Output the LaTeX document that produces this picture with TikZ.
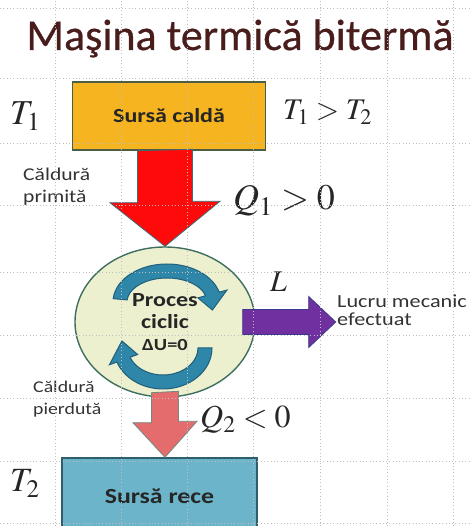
\documentclass[tikz,border=0pt]{standalone}
\usepackage{mathptmx}
\usepackage[no-math]{fontspec}
\setmainfont{Carlito}
\newfontfamily\lblfont{Carlito}[FakeStretch=1.2]
\newfontfamily\titlefont{Carlito}[FakeBold=0.6]
\usetikzlibrary{calc,shapes.geometric}

\definecolor{titlecol}{HTML}{4A1D1D}
\definecolor{hotfill}{HTML}{F6B420}
\definecolor{hotline}{HTML}{4B5D45}
\definecolor{coldfill}{HTML}{6CB4C9}
\definecolor{coldline}{HTML}{2E5E6A}
\definecolor{cycfill}{HTML}{EDF0CF}
\definecolor{cycline}{HTML}{3E6E5E}
\definecolor{cycblue}{HTML}{2E87A8}
\definecolor{cycdark}{HTML}{1F5F7A}
\definecolor{hotred}{HTML}{FF0A0A}
\definecolor{redline}{HTML}{3A6B78}
\definecolor{workcol}{HTML}{7030A0}
\definecolor{workline}{HTML}{3A3A8C}
\definecolor{lostred}{HTML}{E46C6C}
\definecolor{lostline}{HTML}{6F8A80}
\definecolor{txtgray}{HTML}{333333}

\tikzset{
  srcbox/.style={rectangle, line width=1.4pt, inner sep=0pt, text=black!85,
    font=\lblfont\bfseries\fontsize{20}{24}\selectfont},
  cycnode/.style={ellipse, fill=cycfill, draw=cycline, line width=1.4pt,
    inner sep=0pt, minimum width=180pt, minimum height=150pt, align=center,
    text=black!85, font=\lblfont\bfseries\fontsize{20}{22}\selectfont},
  lbl/.style={inner sep=0pt, align=left, text=txtgray,
    font=\lblfont\fontsize{18}{22}\selectfont},
  mth/.style={inner sep=0pt, text=black!85},
  blockarr/.style={line width=0.8pt, line join=miter},
  cycarr/.style={fill=cycblue, draw=cycdark, line width=1pt, line join=miter},
  gridln/.style={gray!50, line width=0.6pt, dash pattern=on 0.7pt off 2.6pt}
}

\begin{document}
\begin{tikzpicture}[x=1pt,y=1pt]
\useasboundingbox (0,0) rectangle (470,526);

% title
\node[inner sep=0pt, anchor=base, text=titlecol,
  font=\titlefont\fontsize{44}{48}\selectfont] (title) at (240,476) {Maşina termică bitermă};

% the two sources and the cycle
\node[srcbox, fill=hotfill, draw=hotline, minimum width=193pt,
  minimum height=68pt] (hot) at (169,410) {Sursă caldă};
\node[cycnode] (cyc) at (165,204) {Proces\\ciclic\\{\fontsize{17}{19}\selectfont ΔU=0}};
\node[srcbox, fill=coldfill, draw=coldline, minimum width=195pt,
  minimum height=76pt, font=\lblfont\bfseries\fontsize{21.5}{24}\selectfont]
  (cold) at (159.5,30) {Sursă rece};
\coordinate (wk) at ($(cyc.east)+(80,0)$);
\coordinate (ct) at ($(cyc.center)+(2,20)$);
\coordinate (cb) at ($(cyc.center)+(-2,-26)$);

% heat in
\filldraw[blockarr, fill=hotred, draw=redline]
  ($(hot.south -| cyc.north)+(-27.5,0)$) -- ++(0,-52) -- ++(-27.5,0)
  -- (cyc.north) -- ++(55,45) -- ++(-27.5,0) -- ++(0,52) -- cycle;
% work out
\filldraw[blockarr, fill=workcol, draw=workline]
  ($(cyc.east)+(-13,12.5)$) -- ++(66,0) -- ++(0,13) -- (wk)
  -- ++(-27,-25.5) -- ++(0,13) -- ++(-66,0) -- cycle;
% heat out
\filldraw[blockarr, fill=lostred, draw=lostline]
  ($(cyc.south)+(-13.5,5)$) -- ++(0,-30) -- ++(-18.5,0)
  -- (cold.north -| cyc.south) -- ++(32,36) -- ++(-18.5,0) -- ++(0,30) -- cycle;

% cycle arrows
\filldraw[cycarr] ($(ct)+(175:54 and 38)$)
  arc[start angle=175, end angle=15, x radius=54, y radius=38]
  -- ($(ct)+(15:62 and 46)$) -- ($(ct)+(-15:47 and 31)$)
  -- ($(ct)+(15:32 and 16)$) -- ($(ct)+(15:40 and 24)$)
  arc[start angle=15, end angle=175, x radius=40, y radius=24] -- cycle;
\filldraw[cycarr] ($(cb)+(0:49 and 41)$)
  arc[start angle=0, end angle=-160, x radius=49, y radius=41]
  -- ($(cb)+(-160:57 and 49)$) -- ($(cb)+(-192:42 and 34)$)
  -- ($(cb)+(-160:27 and 19)$) -- ($(cb)+(-160:35 and 27)$)
  arc[start angle=-160, end angle=0, x radius=35, y radius=27] -- cycle;

% labels
\node[mth, anchor=base west, font=\fontsize{35}{38}\selectfont] (t1) at (10,401) {$T_1$};
\node[mth, anchor=base west, font=\fontsize{30}{34}\selectfont] (tcmp) at (283,406) {$T_1>T_2$};
\node[mth, anchor=base west, font=\fontsize{36}{40}\selectfont] (q1) at (233,316) {$Q_1>0$};
\node[mth, anchor=base west, font=\fontsize{30}{34}\selectfont] (lw) at (270,234) {$L$};
\node[mth, anchor=base west, font=\fontsize{32}{36}\selectfont] (q2) at (200,98) {$Q_2<0$};
\node[mth, anchor=base west, font=\fontsize{34}{38}\selectfont] (t2) at (10,34) {$T_2$};

\node[lbl, anchor=base west] (qin) at (23,323) {Căldură\\primită};
\node[lbl, anchor=base west, font=\lblfont\fontsize{16.5}{22}\selectfont]
  (qout) at (33,111) {Căldură\\pierdută};
\node[lbl, anchor=base west, font=\lblfont\fontsize{18.5}{18}\selectfont]
  (work) at (337,200) {Lucru mecanic\\efectuat};

% grid
\foreach \gx in {55,121,187,253,320,387,453}
  \draw[gridln] (\gx,0) -- (\gx,526);
\foreach \gy in {3,65,128,191,254,321,383,448,518}
  \draw[gridln] (0,\gy) -- (470,\gy);
\end{tikzpicture}
\end{document}
